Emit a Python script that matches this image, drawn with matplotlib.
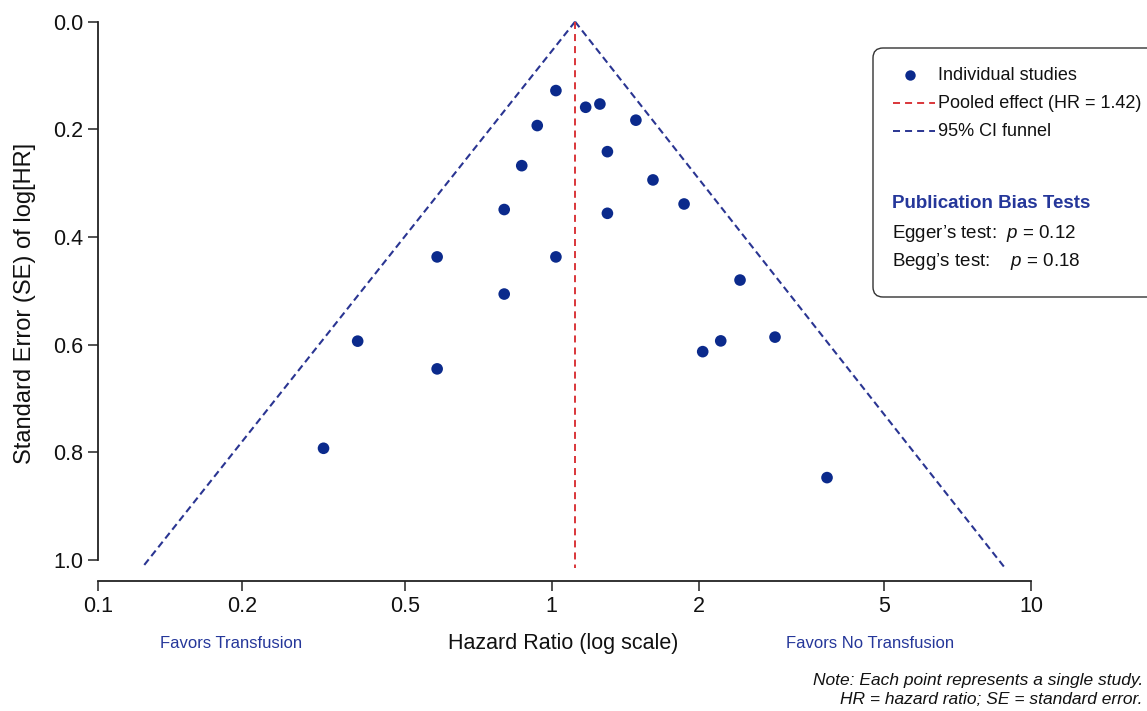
import matplotlib
matplotlib.use('Agg')
import matplotlib.pyplot as plt
import numpy as np
from matplotlib.patches import FancyBboxPatch

plt.rcParams['font.family'] = ['Liberation Sans', 'DejaVu Sans']
plt.rcParams['mathtext.fontset'] = 'custom'
plt.rcParams['mathtext.it'] = 'Liberation Sans:italic'
plt.rcParams['mathtext.rm'] = 'Liberation Sans'

# study estimates (hazard ratio, standard error of log HR)
hr = [1.020, 1.173, 1.254, 1.485, 0.934, 1.299, 0.868, 1.609, 1.862, 0.799, 1.299,
      0.582, 1.020, 2.447, 0.799, 2.910, 2.224, 2.034, 3.765, 0.383, 0.316, 0.582]
se = [0.128, 0.159, 0.153, 0.183, 0.193, 0.2415, 0.2675, 0.294, 0.3387, 0.349, 0.356,
      0.437, 0.437, 0.480, 0.506, 0.586, 0.593, 0.613, 0.847, 0.5935, 0.7925, 0.645]

pooled_hr = 1.116
funnel_se = [0.0, 1.015]
funnel_lower = [pooled_hr, 0.1233]
funnel_upper = [pooled_hr, 8.845]

x_ticks = [0.1, 0.2, 0.5, 1, 2, 5, 10]
x_tick_labels = ['0.1', '0.2', '0.5', '1', '2', '5', '10']
y_ticks = [0.0, 0.2, 0.4, 0.6, 0.8, 1.0]
y_tick_labels = ['0.0', '0.2', '0.4', '0.6', '0.8', '1.0']

point_color = '#0b2a8c'
funnel_color = '#2a3592'
pooled_color = '#d9363a'
text_blue = '#25379a'

# the printed log axis is not evenly spaced; follow its tick spacing
tick_log = np.log10(x_ticks)
tick_px = np.array([0.0, 144.0, 306.7, 453.4, 601.0, 786.0, 932.7])


def fwd(x):
    return np.interp(np.log10(np.clip(x, 1e-6, None)), tick_log, tick_px)


def inv(p):
    return 10 ** np.interp(p, tick_px, tick_log)


W, H = 1147, 711
fig = plt.figure(figsize=(W / 100, H / 100), dpi=100)
fig.patch.set_facecolor('white')

ax = fig.add_axes([98.3 / W, 1 - 580.7 / H, (1031 - 98.3) / W, (580.7 - 10.9) / H])
ax.set_xscale('function', functions=(fwd, inv))
ax.set_xlim(0.1, 10)
ax.set_ylim(1.0385, -0.02)

ax.plot(funnel_lower, funnel_se, color=funnel_color, lw=1.5, dashes=(3.4, 2.0), zorder=2)
ax.plot(funnel_upper, funnel_se, color=funnel_color, lw=1.5, dashes=(3.4, 2.0), zorder=2)
ax.plot([pooled_hr, pooled_hr], funnel_se, color=pooled_color, lw=1.4, dashes=(3.6, 2.6), zorder=2)
ax.scatter(hr, se, s=70, color=point_color, edgecolors='none', zorder=3)

ax.set_xticks(x_ticks)
ax.set_xticklabels(x_tick_labels)
ax.xaxis.set_minor_locator(matplotlib.ticker.NullLocator())
ax.set_yticks(y_ticks)
ax.set_yticklabels(y_tick_labels)
ax.tick_params(axis='both', which='major', labelsize=15.5, length=7, width=1.1,
               color='#222222', labelcolor='#111111', pad=4)

for side in ['top', 'right']:
    ax.spines[side].set_visible(False)
ax.spines['left'].set_bounds(0.0, 1.0)
ax.spines['bottom'].set_bounds(0.1, 10)
for side in ['left', 'bottom']:
    ax.spines[side].set_linewidth(1.3)
    ax.spines[side].set_color('#222222')

# overlay in pixel coordinates for labels, legend box and notes
ov = fig.add_axes([0, 0, 1, 1])
ov.set_xlim(0, W)
ov.set_ylim(H, 0)
ov.axis('off')

ov.text(563, 643, 'Hazard Ratio (log scale)', fontsize=15.5, ha='center', va='center', color='#111111')
ov.text(25, 303, 'Standard Error (SE) of log[HR]', fontsize=17, ha='center', va='center',
        rotation=90, color='#111111')
ov.text(231, 643, 'Favors Transfusion', fontsize=12, ha='center', va='center', color=text_blue)
ov.text(870, 643, 'Favors No Transfusion', fontsize=12, ha='center', va='center', color=text_blue)
ov.text(1143, 680, 'Note: Each point represents a single study.', fontsize=12.5, style='italic',
        ha='right', va='center', color='#111111')
ov.text(1143, 700, 'HR = hazard ratio; SE = standard error.', fontsize=12.5, style='italic',
        ha='right', va='center', color='#111111')

box = FancyBboxPatch((873, 48), 290, 249, boxstyle='round,pad=0,rounding_size=10',
                     facecolor='white', edgecolor='#333333', lw=1.0, clip_on=False)
ov.add_patch(box)

ov.plot([910], [75], 'o', color=point_color, markersize=7.5, markeredgewidth=0)
ov.plot([893, 935], [103, 103], color=pooled_color, lw=1.4, dashes=(3.6, 2.6))
ov.plot([893, 935], [131, 131], color=funnel_color, lw=1.4, dashes=(3.6, 2.6))
ov.text(938, 75, 'Individual studies', fontsize=13, va='center', color='#111111')
ov.text(938, 103, 'Pooled effect (HR = 1.42)', fontsize=13, va='center', color='#111111')
ov.text(938, 131, '95% CI funnel', fontsize=13, va='center', color='#111111')

ov.text(892, 203, 'Publication Bias Tests', fontsize=13.5, fontweight='bold', va='center', color=text_blue)
ov.text(892, 234, 'Egger\u2019s test:  $\\mathit{p}$ = 0.12', fontsize=13.5, va='center', color='#111111')
ov.text(892, 262, 'Begg\u2019s test:    $\\mathit{p}$ = 0.18', fontsize=13.5, va='center', color='#111111')

fig.savefig('out.png', dpi=100, facecolor='white')
